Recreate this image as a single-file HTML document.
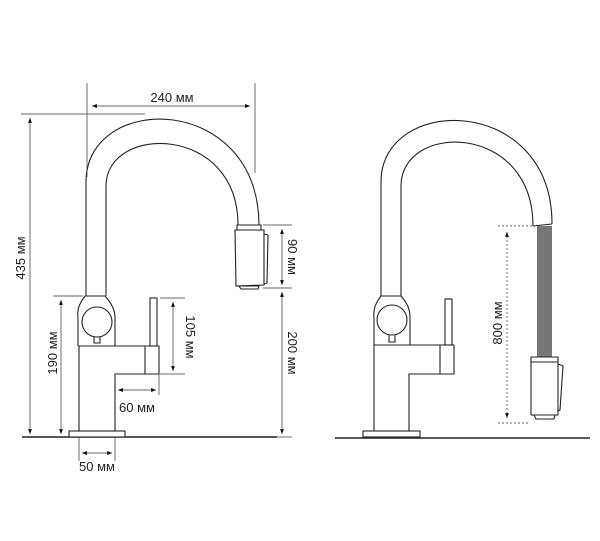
<!DOCTYPE html>
<html><head><meta charset="utf-8"><style>
html,body{margin:0;padding:0;background:#fff;}
svg{display:block}
text{font-family:"Liberation Sans",sans-serif;font-size:13px;fill:#222;}
</style></head><body>
<svg width="600" height="541" viewBox="0 0 600 541" xmlns="http://www.w3.org/2000/svg">
<defs>
<marker id="a" viewBox="0 0 10 10" refX="10" refY="5" markerWidth="7" markerHeight="7" orient="auto-start-reverse"><path d="M0,1 L10,5 L0,9 z" fill="#111"/></marker>
</defs>
<g fill="none" stroke="#222" stroke-width="1.1">
<line x1="22" y1="437" x2="277" y2="437" stroke-width="1.6"/>
<rect x="69" y="431" width="56" height="6" fill="#fff"/>
<path d="M79,431 L79,346 L159,346 L159,374 L115,374 L115,431"/>
<line x1="145" y1="346" x2="145" y2="374"/>
<rect x="150" y="298" width="7" height="48" fill="#fff"/>
<path d="M85,296 C79,304 77,310 78,318 L78,346 M105,296 C112,304 115,310 115,318 L115,346"/>
<line x1="85" y1="296" x2="105" y2="296"/>
<circle cx="97" cy="322" r="15"/>
<path d="M94,337 L94,343 L100,343 L100,337"/>
<path d="M86,296 L86,182 C86,92 258,92 259,225"/>
<path d="M106,296 L106,186 C106,124 238,124 238,225"/>
<path d="M237,225 L261,225 L261,230 L237,230 z"/>
<path d="M235,230 L264,230 L264,285 L236,286 z"/>
<path d="M239,286 L259,286 L258,289 L241,289 z"/>
<path d="M264,234 L268,235 L267,283 L264,284"/>
<line x1="335" y1="438" x2="590" y2="438" stroke-width="1.6"/>
<rect x="363" y="431" width="57" height="6" fill="#fff"/>
<path d="M374,431 L374,345 L454,345 L454,374 L409,374 L409,431"/>
<line x1="440" y1="345" x2="440" y2="374"/>
<rect x="445" y="299" width="7" height="46" fill="#fff"/>
<path d="M381,296 C375,304 373,310 374,318 L374,345 M401,296 C408,304 410,310 410,318 L410,345"/>
<line x1="381" y1="296" x2="401" y2="296"/>
<circle cx="392" cy="320" r="15"/>
<path d="M389,335 L389,342 L395,342 L395,335"/>
<path d="M381,296 L381,182 C381,94 552,94 552,224"/>
<path d="M401,296 L401,186 C401,122 533,122 533,226"/>
<line x1="533" y1="226" x2="552" y2="224"/>
<rect x="537" y="226" width="15" height="131" fill="#777" stroke="none"/>
<path d="M531,357 L558,357 L558,415 L531,415 z"/>
<line x1="531" y1="362" x2="558" y2="362"/>
<path d="M534,415 L555,415 L554,419 L536,419 z"/>
<path d="M558,364 L563,366 L560,410 L558,411"/>
</g>
<g stroke="#333" stroke-width="0.7" fill="none">
<line x1="87" y1="83" x2="87" y2="177"/>
<line x1="255" y1="83" x2="255" y2="173"/>
<line x1="92" y1="106" x2="250" y2="106" marker-start="url(#a)" marker-end="url(#a)"/>
<line x1="21" y1="114" x2="145" y2="114"/>
<line x1="30" y1="118" x2="30" y2="434" marker-start="url(#a)" marker-end="url(#a)"/>
<line x1="53" y1="296" x2="83" y2="296"/>
<line x1="61" y1="300" x2="61" y2="434" marker-start="url(#a)" marker-end="url(#a)"/>
<line x1="160" y1="298" x2="185" y2="298"/>
<line x1="160" y1="374" x2="185" y2="374"/>
<line x1="173" y1="302" x2="173" y2="371" marker-start="url(#a)" marker-end="url(#a)"/>
<line x1="159" y1="374" x2="159" y2="395"/>
<line x1="118" y1="390" x2="156" y2="390" marker-start="url(#a)" marker-end="url(#a)"/>
<line x1="79" y1="437" x2="79" y2="461"/>
<line x1="115" y1="437" x2="115" y2="461"/>
<line x1="82" y1="453" x2="112" y2="453" marker-start="url(#a)" marker-end="url(#a)"/>
<line x1="263" y1="225" x2="292" y2="225"/>
<line x1="263" y1="288" x2="292" y2="288"/>
<line x1="282" y1="229" x2="282" y2="285" marker-start="url(#a)" marker-end="url(#a)"/>
<line x1="282" y1="292" x2="282" y2="434" marker-start="url(#a)" marker-end="url(#a)"/>
<line x1="277" y1="437" x2="292" y2="437"/>
<g stroke-dasharray="2,2">
<line x1="498" y1="226" x2="535" y2="226"/>
<line x1="498" y1="423" x2="530" y2="423"/>
<line x1="507" y1="232" x2="507" y2="418" marker-start="url(#a)" marker-end="url(#a)"/>
</g>
</g>
<text x="172" y="102" text-anchor="middle">240 мм</text>
<text transform="translate(25,258) rotate(-90)" text-anchor="middle">435 мм</text>
<text transform="translate(57,353) rotate(-90)" text-anchor="middle">190 мм</text>
<text transform="translate(186,337) rotate(90)" text-anchor="middle">105 мм</text>
<text x="137" y="412" text-anchor="middle">60 мм</text>
<text x="97" y="471" text-anchor="middle">50 мм</text>
<text transform="translate(288,257) rotate(90)" text-anchor="middle">90 мм</text>
<text transform="translate(288,353) rotate(90)" text-anchor="middle">200 мм</text>
<text transform="translate(502,323) rotate(-90)" text-anchor="middle">800 мм</text>
</svg>
</body></html>
